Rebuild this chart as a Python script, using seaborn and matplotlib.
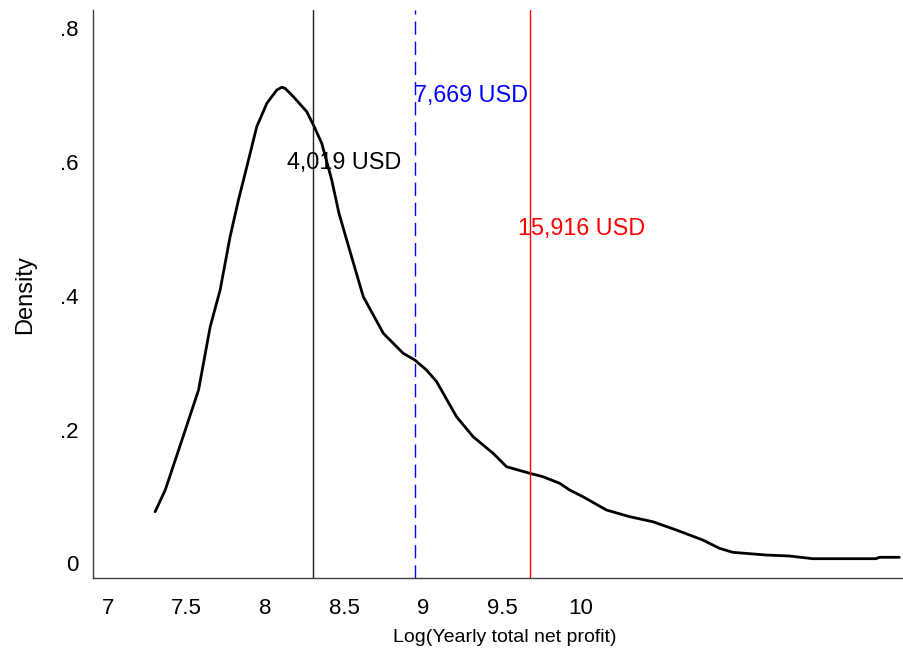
import numpy as np
import pandas as pd
import matplotlib
matplotlib.use("Agg")
import matplotlib.pyplot as plt
import seaborn as sns

# Kernel density of log yearly total net profit (traced estimate)
log_profit = [7.300, 7.364, 7.470, 7.575, 7.649, 7.712, 7.775, 7.828, 7.881, 7.944,
              8.008, 8.071, 8.103, 8.123, 8.176, 8.261, 8.303, 8.356, 8.419, 8.465,
              8.514, 8.619, 8.746, 8.872, 8.946, 9.020, 9.084, 9.210, 9.315, 9.442,
              9.527, 9.674, 9.758, 9.864, 9.927, 10.011, 10.160, 10.307, 10.454, 10.603,
              10.771, 10.877, 10.961, 11.172, 11.320, 11.467, 11.868, 11.889, 12.016]
density = [0.0772, 0.1096, 0.1844, 0.2591, 0.3538, 0.4087, 0.4884, 0.5433, 0.5930, 0.6529,
           0.6879, 0.7077, 0.7118, 0.7103, 0.6977, 0.6753, 0.6554, 0.6280, 0.5732, 0.5234,
           0.4834, 0.3987, 0.3439, 0.3140, 0.3040, 0.2890, 0.2716, 0.2192, 0.1893, 0.1645,
           0.1444, 0.1346, 0.1295, 0.1196, 0.1096, 0.0996, 0.0797, 0.0697, 0.0622, 0.0498,
           0.0348, 0.0224, 0.0164, 0.0124, 0.0109, 0.0069, 0.0069, 0.0090, 0.0090]

# Reference profit levels (USD) with their label positions
ref_usd = [4019, 7669, 15916]
line_colors = ["#202020", "#0000ff", "#ff0000"]
text_colors = ["black", "#0000ff", "#ff0000"]
ref_styles = ["solid", "dashed", "solid"]
label_x = [8.5, 9.3, 10.0]
label_y = [0.6, 0.7, 0.5]

x_ticks = [7, 7.5, 8, 8.5, 9, 9.5, 10]
x_tick_labels = ["7", "7.5", "8", "8.5", "9", "9.5", "10"]
y_ticks = [0, 0.2, 0.4, 0.6, 0.8]
y_tick_labels = ["0", ".2", ".4", ".6", ".8"]

sns.set_style("white")
plt.rcParams["font.family"] = ["Liberation Sans", "DejaVu Sans"]

fig = plt.figure(figsize=(9.04, 6.51), dpi=100)
ax = fig.add_axes([0.1032, 0.1117, 0.8968, 0.8730])

df = pd.DataFrame({"x": log_profit, "y": density})
sns.lineplot(data=df, x="x", y="y", ax=ax, color="black", linewidth=2.0,
             sort=False, estimator=None)

for usd, lc, tc, ls, tx, ty in zip(ref_usd, line_colors, text_colors, ref_styles,
                                   label_x, label_y):
    lx = np.log(usd)
    if ls == "dashed":
        ax.axvline(lx, color=lc, linewidth=1.0, linestyle=(0, (9.5, 5)))
    else:
        ax.axvline(lx, color=lc, linewidth=1.0)
    ax.text(tx, ty, f"{usd:,} USD", color=tc, fontsize=16.8,
            ha="center", va="center")

ax.set_xlim(6.908, 12.046)
ax.set_ylim(-0.0224, 0.8274)
ax.set_xticks(x_ticks)
ax.set_xticklabels(x_tick_labels)
ax.set_yticks(y_ticks)
ax.set_yticklabels(y_tick_labels)
ax.tick_params(axis="both", length=0, labelsize=16, colors="black")
ax.tick_params(axis="x", pad=14)
ax.tick_params(axis="y", pad=11)

ax.set_xlabel("Log(Yearly total net profit)", fontsize=14, color="black", va="center")
ax.set_ylabel("Density", fontsize=17, color="black", va="center")
ax.xaxis.set_label_coords(0.508, -0.1038)
ax.yaxis.set_label_coords(-0.0843, 0.5)

for side in ["top", "right"]:
    ax.spines[side].set_visible(False)
for side in ["left", "bottom"]:
    ax.spines[side].set_color("#404040")
    ax.spines[side].set_linewidth(1.0)

fig.savefig("out.png", dpi=100)
